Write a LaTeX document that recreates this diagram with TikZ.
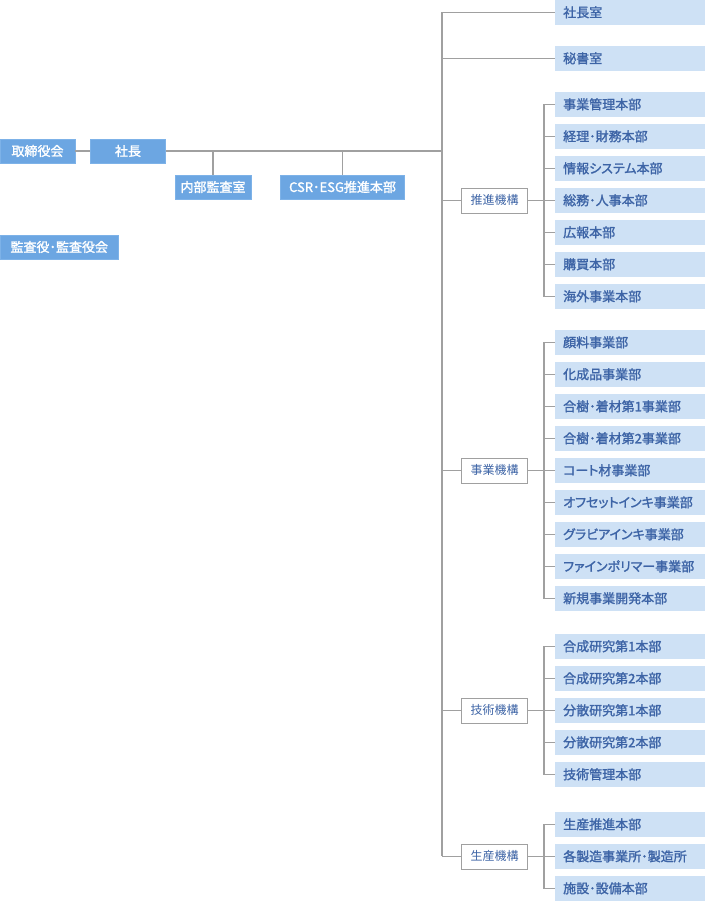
\documentclass[tikz,border=0pt]{standalone}
\usepackage{fontspec}
\setmainfont{Noto Sans CJK JP}[RawFeature=+palt]
\newfontfamily\medfont{Noto Sans CJK JP}[RawFeature=+palt,FakeBold=1.6]
\usetikzlibrary{positioning}
\definecolor{topblue}{HTML}{6CA6E2}
\definecolor{topline}{HTML}{7DB2E8}
\definecolor{paleblue}{HTML}{CEE1F5}
\definecolor{inkblue}{HTML}{3D64A6}
\definecolor{wire}{HTML}{A0A0A0}
\tikzset{
  exec/.style={draw=topline,fill=topblue,text=white,minimum width=75pt,minimum height=24pt,inner sep=0pt,align=center,font=\fontsize{13}{15}\medfont},
  unit/.style={fill=paleblue,text=inkblue,anchor=west,text width=134pt,inner xsep=8pt,inner ysep=0pt,minimum height=24.5pt,align=left,font=\fontsize{13}{15}\medfont},
  group/.style={draw=wire,fill=white,text=inkblue,minimum width=66pt,minimum height=25pt,inner sep=0pt,align=center,font=\fontsize{12}{14}\selectfont},
  conn/.style={draw=wire,line width=1.2pt}
}
\begin{document}
\begin{tikzpicture}[x=1pt,y=-1pt]
  \useasboundingbox (0,0) rectangle (705,907);
  % board and president
  \node[exec] (board) at (37.5,151) {取締役会};
  \node[exec] (pres) at (128,151) {社長};
  \node[exec,minimum width=76pt] (audit) at (213,187) {内部監査室};
  \node[exec,minimum width=124pt] (csr) at (342.5,187) {CSR･ESG推進本部};
  \node[exec,minimum width=118.5pt] (kansa) at (59.25,247) {監査役･監査役会};

  % trunk
  \coordinate (ttop) at (442,12.3);
  \coordinate (tpres) at (442,151);
  \coordinate (tbot) at (442,856.3);
  \draw[conn] (board) -- (pres);
  \draw[conn] (pres) -- (tpres);
  \draw[conn] (audit.north) -- (audit.north |- pres);
  \draw[conn] (csr.north) -- (csr.north |- pres);
  \draw[conn] (ttop) -- (tbot);

  % direct units
  \node[unit] (shacho) at (555,12.3) {社長室};
  \node[unit] (hisho) at (555,58.3) {秘書室};
  \draw[conn] (ttop) -- (shacho);
  \draw[conn] (hisho -| ttop) -- (hisho);

  % groups
  \node[group] (suishin) at (494.5,200.3) {推進機構};
  \node[group] (jigyo) at (494.5,470.3) {事業機構};
  \node[group] (gijutsu) at (494.5,710.3) {技術機構};
  \node[group] (seisan) at (494.5,856.3) {生産機構};
  \draw[conn] (suishin -| ttop) -- (suishin);
  \draw[conn] (jigyo -| ttop) -- (jigyo);
  \draw[conn] (gijutsu -| ttop) -- (gijutsu);
  \draw[conn] (tbot) -- (seisan);

  % 推進機構
  \node[unit] (s1) at (555,104.3) {事業管理本部};
  \node[unit] (s2) at (555,136.3) {経理･財務本部};
  \node[unit] (s3) at (555,168.3) {情報システム本部};
  \node[unit] (s4) at (555,200.3) {総務･人事本部};
  \node[unit] (s5) at (555,232.3) {広報本部};
  \node[unit] (s6) at (555,264.3) {購買本部};
  \node[unit] (s7) at (555,296.3) {海外事業本部};
  \draw[conn] (suishin) -- (s4);
  \draw[conn] (s1.west) -- ++(-11,0) |- (s7.west);
  \foreach \u in {s2,s3,s5,s6} \draw[conn] (\u.west) -- ++(-11,0);

  % 事業機構
  \node[unit] (j1) at (555,342.3) {顔料事業部};
  \node[unit] (j2) at (555,374.3) {化成品事業部};
  \node[unit] (j3) at (555,406.3) {合樹･着材第1事業部};
  \node[unit] (j4) at (555,438.3) {合樹･着材第2事業部};
  \node[unit] (j5) at (555,470.3) {コート材事業部};
  \node[unit] (j6) at (555,502.3) {オフセットインキ事業部};
  \node[unit] (j7) at (555,534.3) {グラビアインキ事業部};
  \node[unit] (j8) at (555,566.3) {ファインポリマー事業部};
  \node[unit] (j9) at (555,598.3) {新規事業開発本部};
  \draw[conn] (jigyo) -- (j5);
  \draw[conn] (j1.west) -- ++(-11,0) |- (j9.west);
  \foreach \u in {j2,j3,j4,j6,j7,j8} \draw[conn] (\u.west) -- ++(-11,0);

  % 技術機構
  \node[unit] (g1) at (555,646.3) {合成研究第1本部};
  \node[unit] (g2) at (555,678.3) {合成研究第2本部};
  \node[unit] (g3) at (555,710.3) {分散研究第1本部};
  \node[unit] (g4) at (555,742.3) {分散研究第2本部};
  \node[unit] (g5) at (555,774.3) {技術管理本部};
  \draw[conn] (gijutsu) -- (g3);
  \draw[conn] (g1.west) -- ++(-11,0) |- (g5.west);
  \foreach \u in {g2,g4} \draw[conn] (\u.west) -- ++(-11,0);

  % 生産機構
  \node[unit] (p1) at (555,824.3) {生産推進本部};
  \node[unit] (p2) at (555,856.3) {各製造事業所･製造所};
  \node[unit] (p3) at (555,888.3) {施設･設備本部};
  \draw[conn] (seisan) -- (p2);
  \draw[conn] (p1.west) -- ++(-11,0) |- (p3.west);
\end{tikzpicture}
\end{document}
